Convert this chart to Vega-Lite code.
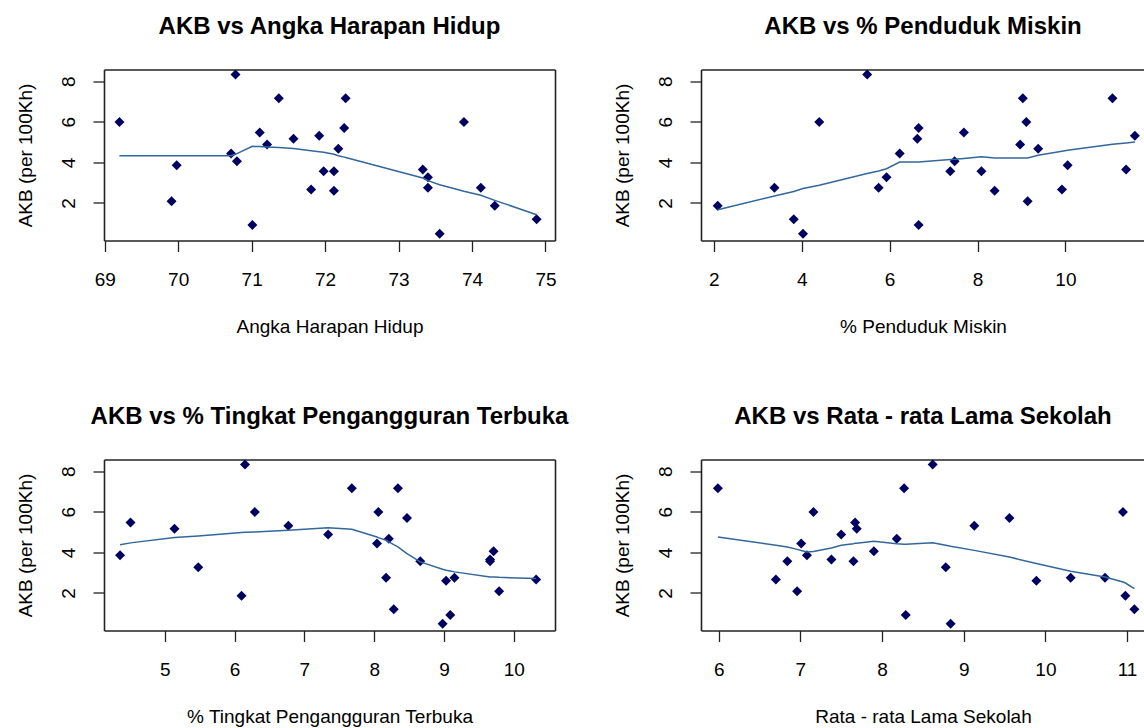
{
  "$schema": "https://vega.github.io/schema/vega-lite/v6.json",
  "padding": {"left": 15, "top": 14.5, "right": 0, "bottom": 0},
  "background": "white",
  "bounds": "flush",
  "columns": 2,
  "spacing": {"row": 219, "column": 146},
  "datasets": {
    "pts": [
      {"akb": 8.33, "ahh": 70.78, "miskin": 5.49, "tpt": 6.15, "rls": 8.62},
      {"akb": 7.16, "ahh": 71.37, "miskin": 9.03, "tpt": 7.68, "rls": 5.99},
      {"akb": 7.16, "ahh": 72.28, "miskin": 11.07, "tpt": 8.34, "rls": 8.27},
      {"akb": 5.99, "ahh": 69.2, "miskin": 4.4, "tpt": 6.29, "rls": 7.16},
      {"akb": 5.99, "ahh": 73.89, "miskin": 9.11, "tpt": 8.06, "rls": 10.95},
      {"akb": 5.7, "ahh": 72.26, "miskin": 6.66, "tpt": 8.47, "rls": 9.56},
      {"akb": 5.47, "ahh": 71.11, "miskin": 7.69, "tpt": 4.51, "rls": 7.67},
      {"akb": 5.31, "ahh": 71.92, "miskin": 11.58, "tpt": 6.77, "rls": 9.13},
      {"akb": 5.17, "ahh": 71.57, "miskin": 6.63, "tpt": 5.14, "rls": 7.69},
      {"akb": 4.88, "ahh": 71.21, "miskin": 8.97, "tpt": 7.34, "rls": 7.5},
      {"akb": 4.67, "ahh": 72.18, "miskin": 9.38, "tpt": 8.21, "rls": 8.18},
      {"akb": 4.44, "ahh": 70.72, "miskin": 6.23, "tpt": 8.04, "rls": 7.01},
      {"akb": 4.06, "ahh": 70.8, "miskin": 7.48, "tpt": 9.71, "rls": 7.9},
      {"akb": 3.86, "ahh": 69.98, "miskin": 10.05, "tpt": 4.36, "rls": 7.08},
      {"akb": 3.65, "ahh": 73.33, "miskin": 11.38, "tpt": 9.66, "rls": 7.38},
      {"akb": 3.57, "ahh": 71.98, "miskin": 7.38, "tpt": 8.66, "rls": 6.84},
      {"akb": 3.57, "ahh": 72.12, "miskin": 8.09, "tpt": 9.66, "rls": 7.65},
      {"akb": 3.27, "ahh": 73.4, "miskin": 5.93, "tpt": 5.48, "rls": 8.78},
      {"akb": 2.75, "ahh": 73.4, "miskin": 3.38, "tpt": 8.17, "rls": 10.31},
      {"akb": 2.75, "ahh": 74.12, "miskin": 5.75, "tpt": 9.15, "rls": 10.73},
      {"akb": 2.67, "ahh": 71.81, "miskin": 9.92, "tpt": 10.32, "rls": 6.7},
      {"akb": 2.6, "ahh": 72.12, "miskin": 8.39, "tpt": 9.03, "rls": 9.89},
      {"akb": 2.09, "ahh": 69.91, "miskin": 9.14, "tpt": 9.79, "rls": 6.96},
      {"akb": 1.86, "ahh": 74.31, "miskin": 2.09, "tpt": 6.1, "rls": 10.98},
      {"akb": 1.2, "ahh": 74.88, "miskin": 3.82, "tpt": 8.28, "rls": 11.09},
      {"akb": 0.92, "ahh": 71.01, "miskin": 6.66, "tpt": 9.09, "rls": 8.29},
      {"akb": 0.48, "ahh": 73.56, "miskin": 4.03, "tpt": 8.98, "rls": 8.84}
    ],
    "l_ahh": [
      {"x": 69.2, "y": 4.33}, {"x": 69.91, "y": 4.33}, {"x": 69.98, "y": 4.33}, {"x": 70.72, "y": 4.33},
      {"x": 70.78, "y": 4.4}, {"x": 70.8, "y": 4.43}, {"x": 71.01, "y": 4.79}, {"x": 71.11, "y": 4.78},
      {"x": 71.21, "y": 4.76}, {"x": 71.37, "y": 4.73}, {"x": 71.57, "y": 4.68}, {"x": 71.81, "y": 4.58},
      {"x": 71.92, "y": 4.53}, {"x": 71.98, "y": 4.5}, {"x": 72.12, "y": 4.4}, {"x": 72.18, "y": 4.33},
      {"x": 72.26, "y": 4.26}, {"x": 72.28, "y": 4.24}, {"x": 73.33, "y": 3.23}, {"x": 73.4, "y": 3.1},
      {"x": 73.56, "y": 2.9}, {"x": 73.89, "y": 2.58}, {"x": 74.12, "y": 2.38}, {"x": 74.31, "y": 2.13},
      {"x": 74.88, "y": 1.42}
    ],
    "l_miskin": [
      {"x": 2.09, "y": 1.67}, {"x": 3.38, "y": 2.34}, {"x": 3.82, "y": 2.57}, {"x": 4.03, "y": 2.71},
      {"x": 4.4, "y": 2.87}, {"x": 5.49, "y": 3.45}, {"x": 5.75, "y": 3.58}, {"x": 5.93, "y": 3.69},
      {"x": 6.23, "y": 4.02}, {"x": 6.63, "y": 4.02}, {"x": 6.66, "y": 4.02}, {"x": 7.38, "y": 4.14},
      {"x": 7.48, "y": 4.15}, {"x": 7.69, "y": 4.19}, {"x": 8.09, "y": 4.28}, {"x": 8.39, "y": 4.22},
      {"x": 8.97, "y": 4.22}, {"x": 9.03, "y": 4.22}, {"x": 9.11, "y": 4.22}, {"x": 9.14, "y": 4.22},
      {"x": 9.38, "y": 4.35}, {"x": 9.92, "y": 4.55}, {"x": 10.05, "y": 4.6}, {"x": 11.07, "y": 4.89},
      {"x": 11.38, "y": 4.96}, {"x": 11.58, "y": 5.01}
    ],
    "l_tpt": [
      {"x": 4.36, "y": 4.38}, {"x": 4.51, "y": 4.47}, {"x": 5.14, "y": 4.73}, {"x": 5.48, "y": 4.81},
      {"x": 6.1, "y": 4.98}, {"x": 6.15, "y": 4.99}, {"x": 6.29, "y": 5.01}, {"x": 6.77, "y": 5.09},
      {"x": 7.34, "y": 5.21}, {"x": 7.68, "y": 5.14}, {"x": 8.04, "y": 4.76}, {"x": 8.06, "y": 4.73},
      {"x": 8.17, "y": 4.6}, {"x": 8.21, "y": 4.52}, {"x": 8.28, "y": 4.38}, {"x": 8.34, "y": 4.27},
      {"x": 8.47, "y": 3.94}, {"x": 8.66, "y": 3.53}, {"x": 8.98, "y": 3.17}, {"x": 9.03, "y": 3.12},
      {"x": 9.09, "y": 3.08}, {"x": 9.15, "y": 3.04}, {"x": 9.66, "y": 2.79}, {"x": 9.71, "y": 2.79},
      {"x": 9.79, "y": 2.77}, {"x": 10.32, "y": 2.71}
    ],
    "l_rls": [
      {"x": 5.99, "y": 4.76}, {"x": 6.7, "y": 4.35}, {"x": 6.84, "y": 4.27}, {"x": 6.96, "y": 4.15},
      {"x": 7.01, "y": 4.09}, {"x": 7.08, "y": 4.02}, {"x": 7.16, "y": 4.04}, {"x": 7.38, "y": 4.22},
      {"x": 7.5, "y": 4.35}, {"x": 7.65, "y": 4.43}, {"x": 7.67, "y": 4.45}, {"x": 7.69, "y": 4.45},
      {"x": 7.9, "y": 4.55}, {"x": 8.18, "y": 4.43}, {"x": 8.27, "y": 4.4}, {"x": 8.29, "y": 4.4},
      {"x": 8.62, "y": 4.47}, {"x": 8.78, "y": 4.35}, {"x": 8.84, "y": 4.3}, {"x": 9.13, "y": 4.1},
      {"x": 9.56, "y": 3.77}, {"x": 9.89, "y": 3.45}, {"x": 10.31, "y": 3.07}, {"x": 10.73, "y": 2.79},
      {"x": 10.95, "y": 2.54}, {"x": 10.98, "y": 2.49}, {"x": 11.09, "y": 2.21}
    ]
  },
  "concat": [
    {
      "width": 451, "height": 171,
      "title": "AKB vs Angka Harapan Hidup",
      "layer": [
        {
          "data": {"name": "pts"},
          "mark": {"type": "point", "shape": "diamond", "filled": true, "size": 100, "color": "#000060", "opacity": 1},
          "encoding": {
            "x": {"field": "ahh", "type": "quantitative", "scale": {"domain": [68.99, 75.13], "nice": false, "zero": false},
                  "axis": {"orient": "bottom", "values": [69, 70, 71, 72, 73, 74, 75], "title": "Angka Harapan Hidup"}},
            "y": {"field": "akb", "type": "quantitative", "scale": {"domain": [0.15, 8.58], "nice": false, "zero": false},
                  "axis": {"orient": "left", "values": [2, 4, 6, 8], "title": "AKB (per 100Kh)"}}
          }
        },
        {
          "data": {"name": "l_ahh"},
          "mark": {"type": "line", "color": "#33679c", "strokeWidth": 1.5},
          "encoding": {
            "x": {"field": "x", "type": "quantitative", "scale": {"domain": [68.99, 75.13], "nice": false, "zero": false},
                  "axis": {"orient": "top", "labels": false, "ticks": false, "title": null}},
            "y": {"field": "y", "type": "quantitative", "scale": {"domain": [0.15, 8.58], "nice": false, "zero": false},
                  "axis": {"orient": "right", "labels": false, "ticks": false, "title": null}}
          }
        }
      ]
    },
    {
      "width": 444, "height": 171,
      "title": "AKB vs % Penduduk Miskin",
      "layer": [
        {
          "data": {"name": "pts"},
          "mark": {"type": "point", "shape": "diamond", "filled": true, "size": 100, "color": "#000060", "opacity": 1},
          "encoding": {
            "x": {"field": "miskin", "type": "quantitative", "scale": {"domain": [1.71, 11.81], "nice": false, "zero": false},
                  "axis": {"orient": "bottom", "values": [2, 4, 6, 8, 10], "title": "% Penduduk Miskin"}},
            "y": {"field": "akb", "type": "quantitative", "scale": {"domain": [0.15, 8.58], "nice": false, "zero": false},
                  "axis": {"orient": "left", "values": [2, 4, 6, 8], "title": "AKB (per 100Kh)"}}
          }
        },
        {
          "data": {"name": "l_miskin"},
          "mark": {"type": "line", "color": "#33679c", "strokeWidth": 1.5},
          "encoding": {
            "x": {"field": "x", "type": "quantitative", "scale": {"domain": [1.71, 11.81], "nice": false, "zero": false},
                  "axis": {"orient": "top", "labels": false, "ticks": false, "title": null}},
            "y": {"field": "y", "type": "quantitative", "scale": {"domain": [0.15, 8.58], "nice": false, "zero": false},
                  "axis": {"orient": "left", "values": [2, 4, 6, 8], "title": "AKB (per 100Kh)"}}
          }
        }
      ]
    },
    {
      "width": 451, "height": 171,
      "title": "AKB vs % Tingkat Pengangguran Terbuka",
      "layer": [
        {
          "data": {"name": "pts"},
          "mark": {"type": "point", "shape": "diamond", "filled": true, "size": 100, "color": "#000060", "opacity": 1},
          "encoding": {
            "x": {"field": "tpt", "type": "quantitative", "scale": {"domain": [4.13, 10.59], "nice": false, "zero": false},
                  "axis": {"orient": "bottom", "values": [5, 6, 7, 8, 9, 10], "title": "% Tingkat Pengangguran Terbuka"}},
            "y": {"field": "akb", "type": "quantitative", "scale": {"domain": [0.15, 8.58], "nice": false, "zero": false},
                  "axis": {"orient": "left", "values": [2, 4, 6, 8], "title": "AKB (per 100Kh)"}}
          }
        },
        {
          "data": {"name": "l_tpt"},
          "mark": {"type": "line", "color": "#33679c", "strokeWidth": 1.5},
          "encoding": {
            "x": {"field": "x", "type": "quantitative", "scale": {"domain": [4.13, 10.59], "nice": false, "zero": false},
                  "axis": {"orient": "top", "labels": false, "ticks": false, "title": null}},
            "y": {"field": "y", "type": "quantitative", "scale": {"domain": [0.15, 8.58], "nice": false, "zero": false},
                  "axis": {"orient": "right", "labels": false, "ticks": false, "title": null}}
          }
        }
      ]
    },
    {
      "width": 444, "height": 171,
      "title": "AKB vs Rata - rata Lama Sekolah",
      "layer": [
        {
          "data": {"name": "pts"},
          "mark": {"type": "point", "shape": "diamond", "filled": true, "size": 100, "color": "#000060", "opacity": 1},
          "encoding": {
            "x": {"field": "rls", "type": "quantitative", "scale": {"domain": [5.783, 11.22], "nice": false, "zero": false},
                  "axis": {"orient": "bottom", "values": [6, 7, 8, 9, 10, 11], "title": "Rata - rata Lama Sekolah"}},
            "y": {"field": "akb", "type": "quantitative", "scale": {"domain": [0.15, 8.58], "nice": false, "zero": false},
                  "axis": {"orient": "left", "values": [2, 4, 6, 8], "title": "AKB (per 100Kh)"}}
          }
        },
        {
          "data": {"name": "l_rls"},
          "mark": {"type": "line", "color": "#33679c", "strokeWidth": 1.5},
          "encoding": {
            "x": {"field": "x", "type": "quantitative", "scale": {"domain": [5.783, 11.22], "nice": false, "zero": false},
                  "axis": {"orient": "top", "labels": false, "ticks": false, "title": null}},
            "y": {"field": "y", "type": "quantitative", "scale": {"domain": [0.15, 8.58], "nice": false, "zero": false},
                  "axis": {"orient": "left", "values": [2, 4, 6, 8], "title": "AKB (per 100Kh)"}}
          }
        }
      ]
    }
  ],
  "config": {
    "view": {"stroke": null},
    "font": "Liberation Sans",
    "title": {"font": "Liberation Sans", "fontSize": 24, "fontWeight": "bold", "color": "#000", "anchor": "middle", "baseline": "alphabetic", "offset": 31},
    "axis": {
      "grid": false,
      "domainColor": "#222", "domainWidth": 1.6,
      "tickColor": "#222", "tickWidth": 1.3, "tickSize": 11,
      "labelFont": "Liberation Sans", "labelFontSize": 19, "labelColor": "#000",
      "labelFlush": false, "labelBound": false, "labelOverlap": false,
      "titleFont": "Liberation Sans", "titleFontSize": 19, "titleFontWeight": "normal", "titleColor": "#000"
    },
    "axisBottom": {"labelBaseline": "alphabetic", "labelPadding": 33.5, "titleBaseline": "alphabetic", "titleY": 92, "titleAlign": "center"},
    "axisLeft": {"labelAngle": -90, "labelAlign": "center", "labelBaseline": "alphabetic", "labelPadding": 19, "titleAngle": -90, "titleBaseline": "alphabetic", "titleAlign": "center", "titleX": -73, "titleY": 85.5}
  }
}
